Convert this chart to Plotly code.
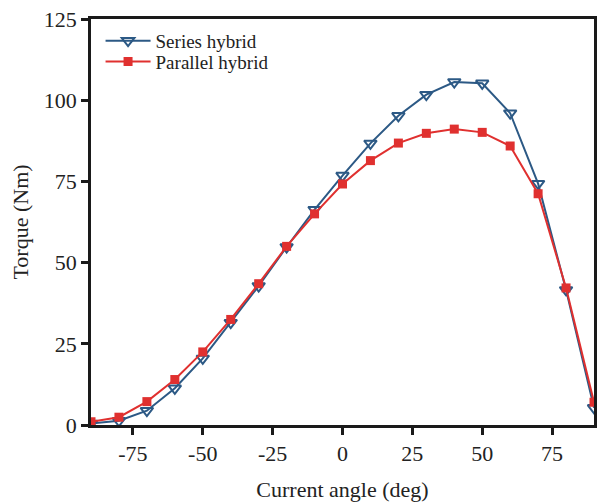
import plotly.graph_objects as go

angles = [-90, -80, -70, -60, -50, -40, -30, -20, -10, 0, 10, 20, 30, 40, 50, 60, 70, 80, 90]
series_hybrid = [0.5, 1.3, 4.4, 11.3, 20.5, 31.5, 42.8, 54.8, 66.3, 76.8, 86.7, 95.2, 101.7, 105.6, 105.2, 96.0, 74.3, 41.6, 5.3]
parallel_hybrid = [1.0, 2.4, 7.2, 14.0, 22.5, 32.5, 43.5, 55.0, 65.0, 74.2, 81.4, 86.8, 89.8, 91.1, 90.1, 85.9, 71.2, 42.2, 7.0]

x_ticks = [-75, -50, -25, 0, 25, 50, 75]
y_ticks = [0, 25, 50, 75, 100, 125]

blue = "#2C5985"
red = "#E0302F"
font_family = "Liberation Serif"

fig = go.Figure()
fig.add_trace(go.Scatter(
    x=angles, y=series_hybrid, mode="lines+markers", name="Series hybrid",
    line=dict(color=blue, width=2),
    marker=dict(symbol="triangle-down-open", size=11, color=blue, line=dict(width=2, color=blue)),
    legend="legend",
))
fig.add_trace(go.Scatter(
    x=angles, y=parallel_hybrid, mode="lines+markers", name="Parallel hybrid",
    line=dict(color=red, width=2),
    marker=dict(symbol="square", size=9, color=red),
    legend="legend2",
))

legend_common = dict(xanchor="left", yanchor="top",
                     font=dict(size=19, family=font_family, color="#222"),
                     bgcolor="rgba(0,0,0,0)", itemwidth=45)

fig.update_layout(
    width=599, height=502,
    margin=dict(l=91, r=5, t=19, b=77, autoexpand=False),
    paper_bgcolor="white", plot_bgcolor="white",
    font=dict(family=font_family, size=22, color="#222"),
    showlegend=True,
    legend=dict(x=0.019, y=0.993, **legend_common),
    legend2=dict(x=0.019, y=0.942, **legend_common),
)
fig.update_xaxes(
    range=[-90, 90], tickvals=x_ticks, ticktext=[str(v) for v in x_ticks],
    showgrid=False, zeroline=False, automargin=False,
    showline=True, linecolor="#1a1a1a", linewidth=2.5, mirror=True,
    ticks="outside", ticklen=7, tickwidth=2.5, tickcolor="#1a1a1a",
    title=dict(text="Current angle (deg)", standoff=18, font=dict(size=22)),
    tickfont=dict(size=22),
)
fig.update_yaxes(
    range=[0, 125], tickvals=y_ticks, ticktext=[str(v) for v in y_ticks],
    showgrid=False, zeroline=False, automargin=False,
    showline=True, linecolor="#1a1a1a", linewidth=2.5, mirror=True,
    ticks="outside", ticklen=7, tickwidth=2.5, tickcolor="#1a1a1a",
    title=dict(text="Torque (Nm)", standoff=10, font=dict(size=22)),
    tickfont=dict(size=22),
)

fig.write_html("out.html", config={"displayModeBar": False},
               post_script="document.body.style.margin='0';")
